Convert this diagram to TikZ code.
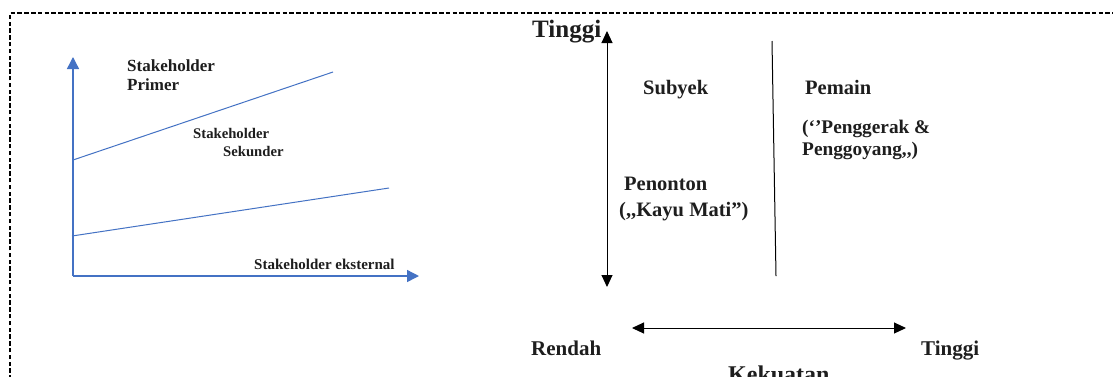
\documentclass[tikz,border=0pt]{standalone}
\usepackage{fontspec}
\usetikzlibrary{arrows.meta}
\newfontfamily\tnr{Liberation Serif}
\newcommand\fsz[1]{\fontsize{#1}{#1}\selectfont}
\definecolor{axisblue}{HTML}{4472C4}
\definecolor{ink}{HTML}{1E1E1E}
\tikzset{
  lbl/.style={font=\tnr\bfseries, inner sep=0pt, anchor=base west, text=ink},
  bluearrow/.style={draw=axisblue, line width=1.4pt, -{Triangle[length=12pt,width=12pt]}},
  blueline/.style={draw=axisblue, line width=1pt},
  blackarrow/.style={draw=black, line width=1pt, {Triangle[length=12pt,width=11pt]}-{Triangle[length=12pt,width=11pt]}},
  frame/.style={draw=black, line width=1.1pt, dash pattern=on 4.5pt off 2.3pt}
}
\begin{document}
\begin{tikzpicture}[x=1pt,y=-1pt]
  \useasboundingbox (0,0) rectangle (1113,376);
  \clip (0,0) rectangle (1113,376);
  \fill[white] (0,0) rectangle (1113,376);

  % dashed outer frame (runs past the right and bottom edges)
  \coordinate (fb) at (10,400);
  \coordinate (fc) at (10,13);
  \coordinate (fr) at (1130,13);
  \draw[frame] (fb) -- (fc) -- (fr);

  % ---- left chart: stakeholder axes ----
  \coordinate (o) at (73,276);
  \coordinate (ytop) at (73,57);
  \coordinate (xend) at (419,276);
  \draw[bluearrow] (o) -- (ytop);
  \draw[bluearrow] (o) -- (xend);

  \coordinate (u1) at (73,160);
  \coordinate (u2) at (333,72);
  \coordinate (l1) at (72,236);
  \coordinate (l2) at (389,188);
  \draw[blueline] (u1) -- (u2);
  \draw[blueline] (l1) -- (l2);

  \node[lbl, font=\tnr\bfseries\fsz{17}] (sp1) at (127,71) {Stakeholder};
  \node[lbl, font=\tnr\bfseries\fsz{17}] (sp2) at (127,90) {Primer};
  \node[lbl, font=\tnr\bfseries\fsz{14.7}] (ss1) at (193,138) {Stakeholder};
  \node[lbl, font=\tnr\bfseries\fsz{14.7}] (ss2) at (223,156) {Sekunder};
  \node[lbl, font=\tnr\bfseries\fsz{15}] (se) at (254,269) {Stakeholder eksternal};

  % ---- right chart: interest / power grid ----
  \node[lbl, font=\tnr\bfseries\fsz{25}] (ttop) at (532,37) {Tinggi};

  \coordinate (va) at (607,31);
  \coordinate (vb) at (607,287);
  \draw[blackarrow] (va) -- (vb);

  \coordinate (ma) at (772,41);
  \coordinate (mb) at (776,276);
  \draw[black, line width=1pt] (ma) -- (mb);

  \node[lbl, font=\tnr\bfseries\fsz{20.5}] (sub) at (643,94) {Subyek};
  \node[lbl, font=\tnr\bfseries\fsz{20.5}] (pem) at (805,94) {Pemain};
  \node[lbl, font=\tnr\bfseries\fsz{19.3}] (pg1) at (802,133) {(‘’Penggerak \&};
  \node[lbl, font=\tnr\bfseries\fsz{19.3}] (pg2) at (802,155) {Penggoyang,\kern0pt,)};
  \node[lbl, font=\tnr\bfseries\fsz{20.5}] (pen) at (624,190) {Penonton};
  \node[lbl, font=\tnr\bfseries\fsz{20.5}] (kay) at (619,216) {(,\kern0pt,Kayu Mati”)};

  \coordinate (ha) at (632,328);
  \coordinate (hb) at (906,328);
  \draw[blackarrow] (ha) -- (hb);

  \node[lbl, font=\tnr\bfseries\fsz{21}] (ren) at (531,355) {Rendah};
  \node[lbl, font=\tnr\bfseries\fsz{21}] (tr) at (921,355) {Tinggi};
  \node[lbl, font=\tnr\bfseries\fsz{24}] (kek) at (728,382) {Kekuatan};
\end{tikzpicture}
\end{document}
